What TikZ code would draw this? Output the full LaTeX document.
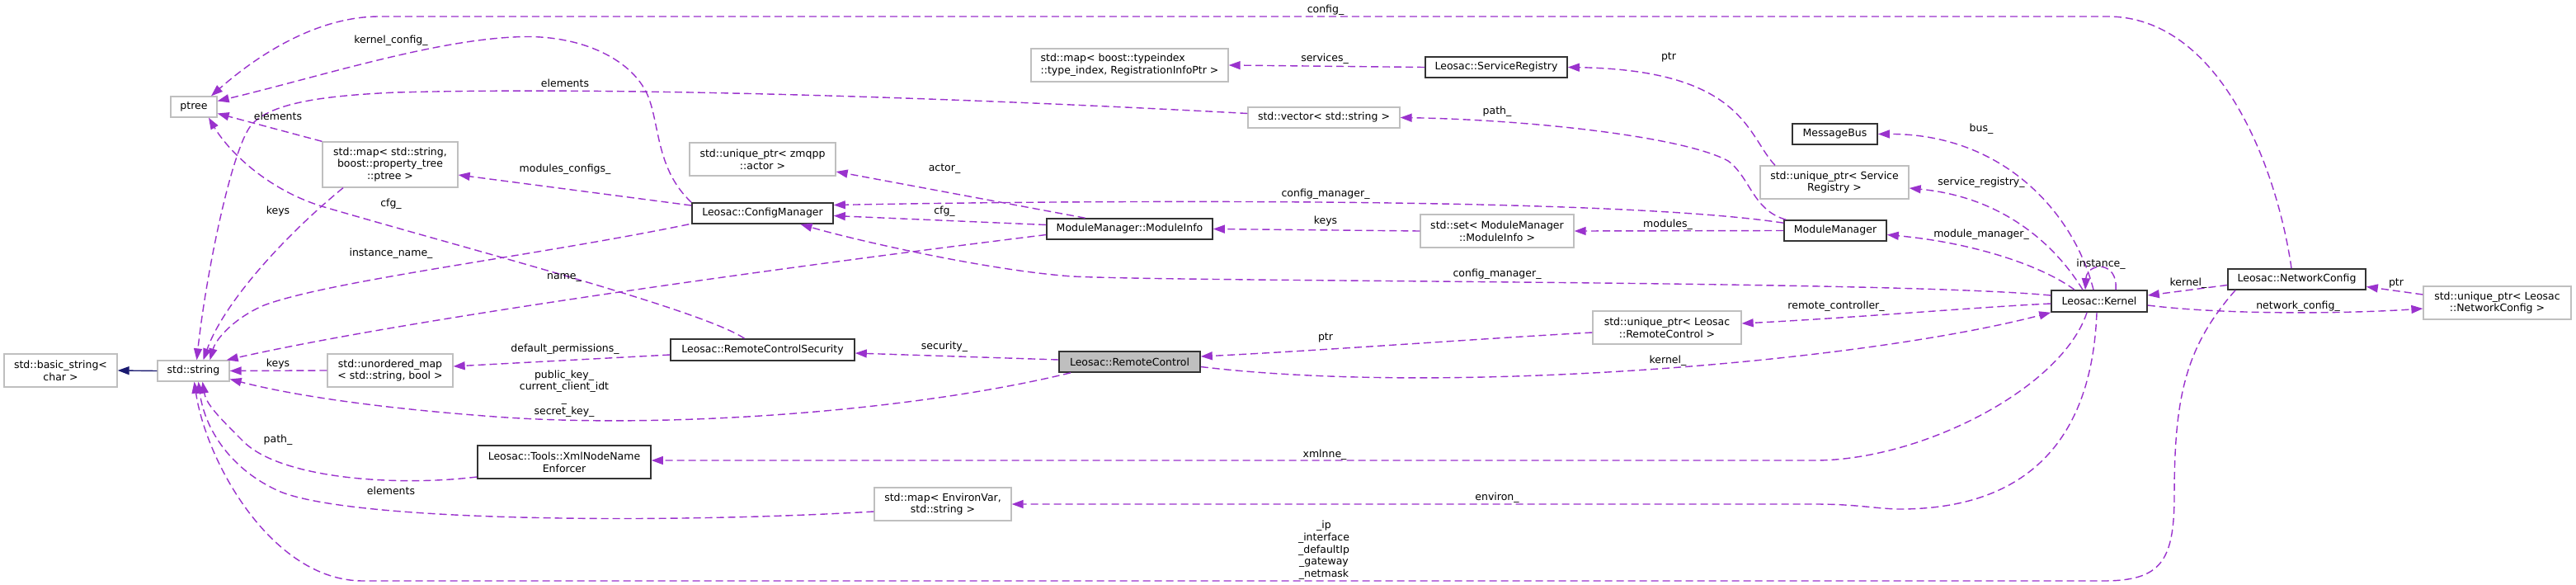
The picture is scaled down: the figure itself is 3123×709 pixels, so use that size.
\documentclass[tikz,border=0pt]{standalone}
\usepackage{fontspec}
\setmainfont{DejaVu Sans}
\usetikzlibrary{arrows.meta}
\definecolor{edgecol}{HTML}{9A32CD}
\definecolor{extcol}{HTML}{BFBFBF}
\definecolor{inhcol}{HTML}{191970}
\definecolor{maincol}{HTML}{BFBFBF}
\begin{document}
\begin{tikzpicture}[x=1pt,y=-1pt,
  every node/.style={font=\fontsize{12.5}{14.7}\selectfont},
  box/.style={draw, line width=1.3pt, inner sep=0pt, align=center, fill=white},
  ext/.style={box, draw=extcol},
  doc/.style={box, draw=black!80, line width=1.6pt},
  mainc/.style={doc, fill=maincol},
  sz/.style 2 args={minimum width=#1pt, minimum height=#2pt},
  rel/.style={draw=edgecol, line width=1.4pt, dash pattern=on 9pt off 5pt, -{Triangle[length=14pt,width=10pt]}},
  inherit/.style={draw=inhcol, line width=1.4pt, -{Triangle[length=14pt,width=10pt]}},
  lbl/.style={inner sep=0pt, align=center}
]
\useasboundingbox (0,0) rectangle (3123,709);
\fill[white] (0,0) rectangle (3123,709);

% nodes
\node[ext, sz={56}{25}] (ptree) at (235,129.5) {ptree};
\node[ext, sz={164}{55}] (mapsp) at (473,199.5) {std::map< std::string,\\ boost::property\_tree\\ ::ptree >};
\node[ext, sz={137}{40}] (bstr) at (73.5,449) {std::basic\_string<\\ char >};
\node[ext, sz={87}{25}] (str) at (234.5,449.5) {std::string};
\node[ext, sz={152}{40}] (umap) at (473,449) {std::unordered\_map\\ < std::string, bool >};
\node[doc, sz={210}{40}] (xml) at (684,560) {Leosac::Tools::XmlNodeName\\ Enforcer};
\node[ext, sz={239}{40}, align=left] (mapt) at (1369.5,79) {std::map< boost::typeindex\\ ::type\_index, RegistrationInfoPtr >};
\node[ext, sz={177}{40}] (actor) at (924.5,193) {std::unique\_ptr< zmqpp\\ ::actor >};
\node[doc, sz={171}{25}] (cfgm) at (924.5,258.5) {Leosac::ConfigManager};
\node[doc, sz={201}{25}] (minfo) at (1369.5,277.5) {ModuleManager::ModuleInfo};
\node[ext, sz={184}{25}] (vec) at (1605,142.5) {std::vector< std::string >};
\node[doc, sz={223}{26}] (rcs) at (924.5,424) {Leosac::RemoteControlSecurity};
\node[mainc, sz={171}{25}] (rc) at (1369.5,438.5) {Leosac::RemoteControl};
\node[ext, sz={166}{40}] (mape) at (1143,611) {std::map< EnvironVar,\\ std::string >};
\node[doc, sz={172}{25}] (sr) at (1814,81.5) {Leosac::ServiceRegistry};
\node[doc, sz={103}{25}] (mbus) at (2224.5,162.5) {MessageBus};
\node[ext, sz={180}{40}] (upsr) at (2224,221) {std::unique\_ptr< Service\\ Registry >};
\node[ext, sz={186}{40}] (set) at (1815,280) {std::set< ModuleManager\\ ::ModuleInfo >};
\node[doc, sz={124}{25}] (mm) at (2225,279.5) {ModuleManager};
\node[ext, sz={180}{40}] (uprc) at (2021,397) {std::unique\_ptr< Leosac\\ ::RemoteControl >};
\node[doc, sz={116}{26}] (kernel) at (2545,365) {Leosac::Kernel};
\node[doc, sz={167}{25}] (nc) at (2784.5,338.5) {Leosac::NetworkConfig};
\node[ext, sz={179}{40}] (upnc) at (3027.5,367) {std::unique\_ptr< Leosac\\ ::NetworkConfig >};

% edges
\draw[rel] ([xshift=-6.5pt]nc.north) .. controls (2760,200) and (2690,20) .. (2555,20) -- (460,20) .. controls (390,20) and (320,60) .. ([xshift=21pt]ptree.north);
\draw[rel] (cfgm.north west) .. controls (795,205) and (800,150) .. (785,115) .. controls (765,70) and (700,40) .. (622,45) .. controls (520,50) and (380,95) .. ([yshift=7pt]ptree.east);
\draw[rel] ([yshift=5pt]vec.west) .. controls (1150,118) and (750,105) .. (480,112) .. controls (390,116) and (330,125) .. (306,150) .. controls (282,175) and (250,330) .. ([xshift=4pt]str.north);
\draw[rel] (mapsp.north west) -- ([yshift=-8pt]ptree.east);
\draw[rel] ([xshift=-57pt]mapsp.south) .. controls (340,290) and (270,370) .. ([xshift=12pt]str.north);
\draw[rel] ([xshift=-22pt]rcs.north) .. controls (850,375) and (560,300) .. (390,250) .. controls (320,228) and (275,180) .. ([xshift=18pt]ptree.south);
\draw[rel] ([yshift=9.5pt]cfgm.west) -- ([yshift=-12.5pt]mapsp.east);
\draw[rel] ([xshift=-3pt]cfgm.south west) .. controls (650,310) and (400,340) .. (320,370) .. controls (285,385) and (262,410) .. ([xshift=20pt]str.north);
\draw[rel] ([yshift=-7pt]minfo.west) .. controls (900,330) and (480,390) .. ([xshift=-4pt]str.north east);
\draw[rel] ([xshift=-54pt]minfo.north) -- ([yshift=-15pt]actor.east);
\draw[rel] ([yshift=5pt]minfo.west) -- ([yshift=-3pt]cfgm.east);
\draw[rel] ([yshift=-4pt]mm.north west) .. controls (1950,238) and (1300,243) .. ([yshift=10pt]cfgm.east);
\draw[rel] ([yshift=7pt]kernel.west) .. controls (2300,340) and (1450,342) .. (1300,335) .. controls (1200,328) and (1040,292) .. ([xshift=46pt]cfgm.south);
\draw[rel] (set.west) -- (minfo.east);
\draw[rel] (mm.west) -- (set.east);
\draw[rel] (sr.west) -- (mapt.east);
\draw[rel] ([xshift=-72pt]upsr.north) .. controls (2118,165) and (2115,85) .. (sr.east);
\draw[rel] ([xshift=3pt]mm.north west) .. controls (2125,255) and (2122,215) .. (2095,195) .. controls (2040,165) and (1850,145) .. (vec.east);
\draw[rel] ([xshift=-7pt]kernel.north) .. controls (2515,260) and (2430,162) .. (mbus.east);
\draw[rel] ([xshift=-20pt]kernel.north) .. controls (2500,310) and (2440,240) .. ([yshift=-7pt]upsr.east);
\draw[rel] ([xshift=-30pt]kernel.north) .. controls (2480,325) and (2400,295) .. ([yshift=-5pt]mm.east);
\draw[rel] ([xshift=20pt]kernel.north) .. controls (2568,315) and (2530,318) .. ([xshift=-17pt]kernel.north);
\draw[rel] ([yshift=-3pt]kernel.west) .. controls (2400,372) and (2250,385) .. ([yshift=5pt]uprc.east);
\draw[rel] ([yshift=-6pt]uprc.west) .. controls (1800,410) and (1600,425) .. ([yshift=6.5pt]rc.east);
\draw[rel] ([yshift=-6pt]rc.east) .. controls (1750,480) and (2250,440) .. (kernel.south west);
\draw[rel] ([yshift=2.5pt]rc.west) -- ([yshift=-4pt]rcs.east);
\draw[rel] ([yshift=-6pt]rcs.west) -- ([yshift=5pt]umap.east);
\draw[rel] (umap.west) -- (str.east);
\draw[rel] ([xshift=-71.5pt]rc.south) .. controls (1100,500) and (800,520) .. (600,505) .. controls (450,494) and (350,478) .. ([yshift=-10pt]str.east);
\draw[rel] ([yshift=-18pt]xml.west) .. controls (480,590) and (340,580) .. (295,535) .. controls (265,505) and (250,490) .. ([xshift=11pt]str.south);
\draw[rel] ([xshift=-15pt]kernel.south) .. controls (2500,470) and (2330,558) .. (2200,558) -- ([yshift=2pt]xml.east);
\draw[rel] ([xshift=-3pt]kernel.south) .. controls (2535,560) and (2430,618) .. (2300,617) .. controls (2270,616) and (2250,611) .. (2200,611) -- (mape.east);
\draw[rel] ([yshift=-9pt]mape.west) .. controls (800,635) and (430,632) .. (340,596) .. controls (280,570) and (248,520) .. ([xshift=6pt]str.south);
\draw[rel] ([xshift=-74.5pt]nc.south) .. controls (2650,420) and (2636,480) .. (2636,600) .. controls (2636,680) and (2620,704) .. (2550,704) -- (440,704) .. controls (330,704) and (250,560) .. ([xshift=1pt]str.south);
\draw[rel] ([yshift=-5pt]kernel.east) .. controls (2700,382) and (2850,380) .. ([yshift=-7pt]upnc.west);
\draw[rel] ([yshift=10pt]upnc.west) -- ([yshift=-9pt]nc.east);
\draw[rel] ([yshift=-7pt]nc.west) -- ([yshift=7pt]kernel.east);
\draw[inherit] (str.west) -- (bstr.east);

% labels
\node[lbl] (l1) at (1607,12) {config\_};
\node[lbl] (l2) at (474,49) {kernel\_config\_};
\node[lbl] (l3) at (685,101) {elements};
\node[lbl] (l4) at (337,141) {elements};
\node[lbl] (l5) at (685,205) {modules\_configs\_};
\node[lbl] (l6) at (474,247) {cfg\_};
\node[lbl] (l7) at (337,256) {keys};
\node[lbl] (l8) at (474,307) {instance\_name\_};
\node[lbl] (l9) at (684,336) {name\_};
\node[lbl] (l10) at (1606,71) {services\_};
\node[lbl] (l11) at (2023,69) {ptr};
\node[lbl] (l12) at (1815,135) {path\_};
\node[lbl] (l13) at (1145,205) {actor\_};
\node[lbl] (l14) at (1145,256) {cfg\_};
\node[lbl] (l15) at (1607,235) {config\_manager\_};
\node[lbl] (l16) at (1607,268) {keys};
\node[lbl] (l17) at (2022,272) {modules\_};
\node[lbl] (l18) at (1815,332) {config\_manager\_};
\node[lbl] (l19) at (2402,156) {bus\_};
\node[lbl] (l20) at (2402,221) {service\_registry\_};
\node[lbl] (l21) at (2402,284) {module\_manager\_};
\node[lbl] (l22) at (2547,320) {instance\_};
\node[lbl] (l23) at (2653,343) {kernel\_};
\node[lbl] (l24) at (2905,343) {ptr};
\node[lbl] (l25) at (2786,371) {network\_config\_};
\node[lbl] (l26) at (2226,371) {remote\_controller\_};
\node[lbl] (l27) at (1607,409) {ptr};
\node[lbl] (l28) at (2022,437) {kernel\_};
\node[lbl] (l29) at (1145,420) {security\_};
\node[lbl] (l30) at (685,423) {default\_permissions\_};
\node[lbl] (l31) at (337,441) {keys};
\node[lbl] (l32) at (684,477) {public\_key\_\\current\_client\_idt\\\_\\secret\_key\_};
\node[lbl] (l33) at (337,533) {path\_};
\node[lbl] (l34) at (474,595) {elements};
\node[lbl] (l35) at (1606,551) {xmlnne\_};
\node[lbl] (l36) at (1815,603) {environ\_};
\node[lbl] (l37) at (1605,667) {\_ip\\\_interface\\\_defaultIp\\\_gateway\\\_netmask};
\end{tikzpicture}
\end{document}
